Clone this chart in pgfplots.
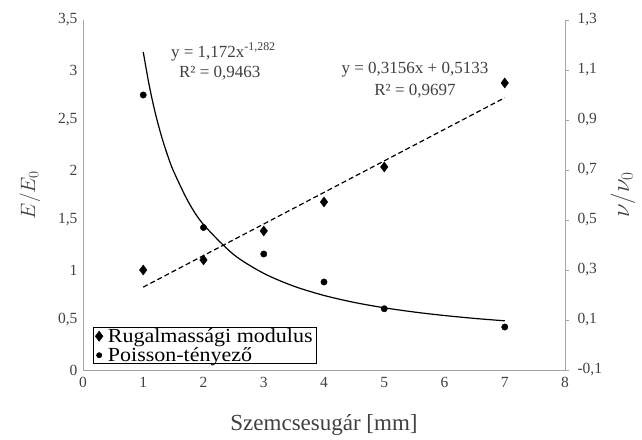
\documentclass[border=0pt]{standalone}
\usepackage{pgfplots}
\pgfplotsset{compat=1.18}
\usepackage{fontspec}
\setmainfont{Liberation Serif}
\newfontfamily\legfont[FakeStretch=1.1]{Liberation Serif}
\definecolor{axgray}{RGB}{165,165,165}
\definecolor{txt}{RGB}{64,64,64}
\begin{document}
\begin{tikzpicture}
\path[use as bounding box] (-83pt,-69pt) rectangle (559pt,370pt);
\begin{axis}[
  scale only axis, width=482pt, height=350pt,
  at={(0,0)}, anchor=south west,
  xmin=0, xmax=8, ymin=0, ymax=3.5,
  axis x line*=bottom, axis y line*=left,
  axis line style={axgray, line width=0.9pt, -},
  xtick={0,1,2,3,4,5,6,7,8},
  ytick={0,0.5,1,1.5,2,2.5,3,3.5},
  major tick length=0pt,
  /pgf/number format/use comma,
  /pgf/number format/assume math mode=true,
  yticklabel style={/pgf/number format/fixed, /pgf/number format/precision=1, xshift=-2pt},
  xticklabel style={yshift=-4pt},
  tick label style={font=\fontsize{15.5}{17}\selectfont, text=txt},
  xlabel={Szemcsesugár [mm]},
  xlabel style={font=\fontsize{23}{25}\selectfont, text=txt, at={(axis description cs:0.5,-0.157)}, anchor=center},
  ylabel={$E/E_0$},
  ylabel style={font=\fontsize{22}{24}\selectfont, text=txt, at={(axis description cs:-0.11,0.5)}, anchor=center},
  legend style={at={(axis description cs:0.021,0.017)}, anchor=south west, draw=black, line width=0.6pt,
    font=\legfont\fontsize{20}{20}\selectfont, inner xsep=2pt, inner ysep=0.5pt, row sep=3pt,
    nodes={inner ysep=0.3pt},
    /tikz/every odd column/.append style={column sep=3pt}},
  legend cell align=left,
  clip=false,
]
\addplot[only marks, mark=diamond*, mark size=5pt, black] coordinates {
  (1,1.00) (2,1.10) (3,1.39) (4,1.68) (5,2.03) (7,2.87)
};
\addlegendentry{Rugalmassági modulus}
\addlegendimage{only marks, mark=*, mark size=2.6pt, black}
\addlegendentry{Poisson-tényező}
\addplot[black, dashed, dash pattern=on 5pt off 3pt, line width=1.2pt, forget plot] coordinates {
  (1,0.8289) (7,2.7225)
};
\node[font=\fontsize{17}{19}\selectfont, text=txt, anchor=center] at (axis cs:2.33,3.18) {y = 1,172x\textsuperscript{-1,282}};
\node[font=\fontsize{17}{19}\selectfont, text=txt, anchor=center] at (axis cs:2.27,2.97) {R² = 0,9463};
\node[font=\fontsize{17}{19}\selectfont, text=txt, anchor=center] at (axis cs:5.51,3.0) {y = 0,3156x + 0,5133};
\node[font=\fontsize{17}{19}\selectfont, text=txt, anchor=center] at (axis cs:5.51,2.79) {R² = 0,9697};
\end{axis}
\begin{axis}[
  scale only axis, width=482pt, height=350pt,
  at={(0,0)}, anchor=south west,
  xmin=0, xmax=8, ymin=-0.1, ymax=1.3,
  axis y line*=right, axis x line=none,
  axis line style={axgray, line width=0.9pt, -},
  ytick={-0.1,0.1,0.3,0.5,0.7,0.9,1.1,1.3},
  tick align=outside, major tick length=4pt,
  tick style={axgray, line width=0.9pt},
  /pgf/number format/use comma,
  /pgf/number format/assume math mode=true,
  yticklabel style={/pgf/number format/fixed, /pgf/number format/precision=1, font=\fontsize{15.5}{17}\selectfont, text=txt, xshift=5pt},
  ylabel={$\nu/\nu_0$},
  ylabel style={font=\fontsize{24}{26}\selectfont, text=txt, at={(axis description cs:1.12,0.5)}, anchor=center},
  clip=false,
]
\addplot[only marks, mark=*, mark size=3.2pt, black] coordinates {
  (1,1.00) (2,0.47) (3,0.364) (4,0.252) (5,0.145) (7,0.072)
};
\addplot[black, line width=1.2pt, smooth] coordinates {
  (1,1.172) (1.1,1.0372) (1.2,0.9277) (1.3,0.8373) (1.4,0.7613) (1.5,0.6969)
  (1.75,0.5719) (2,0.4819) (2.5,0.3620) (3,0.2866) (3.5,0.2352) (4,0.1982)
  (4.5,0.1704) (5,0.1489) (5.5,0.1318) (6,0.1179) (6.5,0.1063) (7,0.0967)
};
\end{axis}
\end{tikzpicture}
\end{document}
